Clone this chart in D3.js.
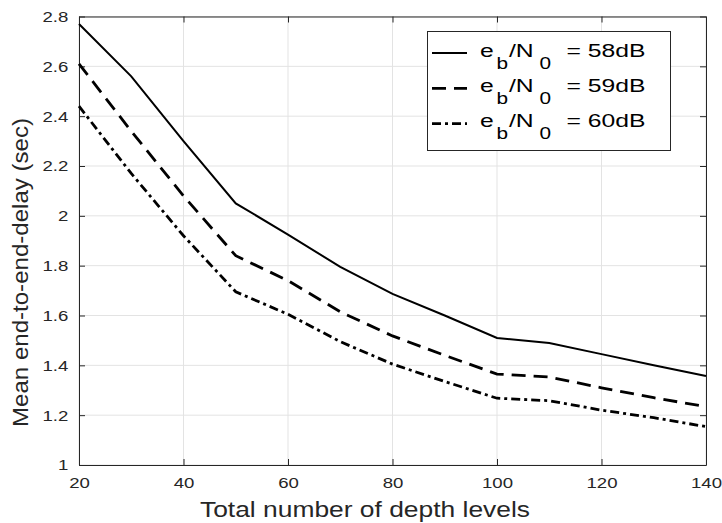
<!DOCTYPE html>
<html><head><meta charset="utf-8">
<script src="https://cdn.jsdelivr.net/npm/d3@7"></script>
<style>body{margin:0;background:#fff}svg{display:block}text{font-family:"Liberation Sans",Arial,sans-serif}</style>
</head><body>
<svg id="c" width="722" height="523"></svg>
<script>
const xValues = [20,30,40,50,60,70,80,90,100,110,120,130,140];
const series58 = [2.77,2.56,2.30,2.05,1.925,1.795,1.687,1.60,1.51,1.49,1.445,1.40,1.357];
const series59 = [2.61,2.34,2.08,1.84,1.74,1.615,1.518,1.44,1.365,1.353,1.31,1.27,1.234];
const series60 = [2.44,2.17,1.92,1.695,1.605,1.495,1.405,1.335,1.268,1.258,1.22,1.19,1.154];
const seriesNames = ["58dB","59dB","60dB"];
const xTicks = [20,40,60,80,100,120,140];
const yTicks = [1,1.2,1.4,1.6,1.8,2,2.2,2.4,2.6,2.8];

const svg = d3.select("#c");
const L=79,R=706,T=16.5,B=465;
const x = d3.scaleLinear().domain([20,140]).range([L,R]);
const y = d3.scaleLinear().domain([1,2.8]).range([B,T]);
const tc="#262626";
const SX=1.2; // horizontal stretch of the reference text

// grid
svg.append("g").selectAll("line").data(xTicks).join("line")
  .attr("x1",d=>x(d)).attr("x2",d=>x(d)).attr("y1",T).attr("y2",B)
  .attr("stroke","#e3e3e3").attr("stroke-width",1);
svg.append("g").selectAll("line").data(yTicks).join("line")
  .attr("y1",d=>y(d)).attr("y2",d=>y(d)).attr("x1",L).attr("x2",R)
  .attr("stroke","#e3e3e3").attr("stroke-width",1);

const ax = (g)=>{g.selectAll("path").attr("stroke",tc);g.selectAll("line").attr("stroke",tc);
  g.selectAll("text").attr("fill",tc).style("font-size","15.5px").attr("transform",`scale(${SX},1)`);};
svg.append("g").attr("transform",`translate(0,${B})`)
  .call(d3.axisBottom(x).tickValues(xTicks).tickSizeInner(-6).tickSizeOuter(0).tickPadding(12).tickFormat(d3.format("d")))
  .call(ax);
svg.append("g").attr("transform",`translate(0,${T})`)
  .call(d3.axisTop(x).tickValues(xTicks).tickSizeInner(-6).tickSizeOuter(0).tickFormat(""))
  .call(ax);
const yg=svg.append("g").attr("transform",`translate(${L},0)`)
  .call(d3.axisLeft(y).tickValues(yTicks).tickSizeInner(-6).tickSizeOuter(0).tickFormat(d=>d3.format("")(+d.toFixed(1))))
  .call(ax);
yg.selectAll(".tick text").attr("x",-10.7/SX);
svg.append("g").attr("transform",`translate(${R},0)`)
  .call(d3.axisRight(y).tickValues(yTicks).tickSizeInner(-6).tickSizeOuter(0).tickFormat(""))
  .call(ax);

// lines
const styles=[{w:2,da:null},{w:2.8,da:"14,8"},{w:2.8,da:"9,4,3,4"}];
const all=[series58,series59,series60];
const line=d3.line().x((d,i)=>x(xValues[i])).y(d=>y(d));
all.forEach((s,k)=>{
  svg.append("path").datum(s).attr("d",line).attr("fill","none")
    .attr("stroke","#000").attr("stroke-width",styles[k].w)
    .attr("stroke-dasharray",styles[k].da);
});

// legend
const lg=svg.append("g");
lg.append("rect").attr("x",427.5).attr("y",31.5).attr("width",243).attr("height",119)
  .attr("fill","#fff").attr("stroke","#262626").attr("stroke-width",1);
const ly=[53,88.3,123.6];
const LS=1.3;
seriesNames.forEach((n,k)=>{
  lg.append("line").attr("x1",432).attr("x2",467).attr("y1",ly[k]).attr("y2",ly[k])
    .attr("stroke","#000").attr("stroke-width",styles[k].w).attr("stroke-dasharray",styles[k].da);
  const t=lg.append("text").attr("transform",`translate(480,${ly[k]+3.7}) scale(${LS},1)`)
    .attr("fill","#000").style("font-size","19px");
  t.append("tspan").attr("x",0).attr("y",0).text("e");
  t.append("tspan").attr("x",12.7).attr("y",12).style("font-size","16px").text("b");
  t.append("tspan").attr("x",22.3).attr("y",0).text("/N");
  t.append("tspan").attr("x",45.8).attr("y",12).style("font-size","16px").text("0");
  t.append("tspan").attr("x",66.5).attr("y",0).text("= "+n);
});

// axis titles
svg.append("text").attr("x",200).attr("y",516.5)
  .attr("textLength",330).attr("lengthAdjust","spacingAndGlyphs")
  .attr("fill",tc).style("font-size","22px").text("Total number of depth levels");
svg.append("text").attr("transform",`translate(28.3,427) rotate(-90)`)
  .attr("textLength",309).attr("lengthAdjust","spacingAndGlyphs")
  .attr("fill",tc).style("font-size","22.5px").text("Mean end-to-end-delay (sec)");
</script>
</body></html>
